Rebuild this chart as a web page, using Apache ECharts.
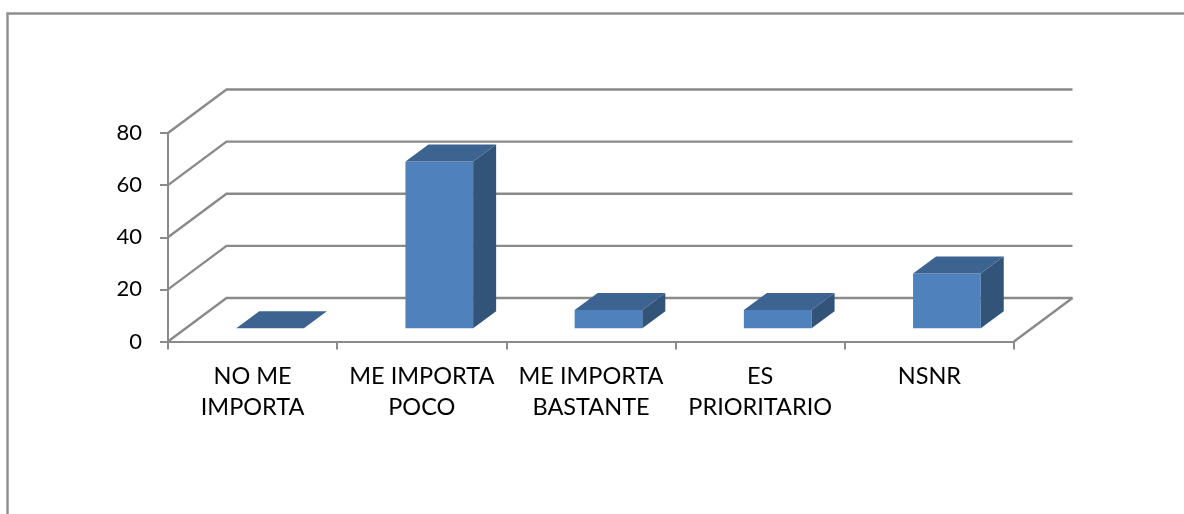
<!DOCTYPE html>
<html>
<head>
<meta charset="utf-8">
<style>html,body{margin:0;padding:0;background:#fff}#c{width:1184px;height:514px}</style>
<script src="https://cdn.jsdelivr.net/npm/echarts@6/dist/echarts.min.js"></script>
</head>
<body>
<div id="c"></div>
<script>
var categories = ['NO ME\nIMPORTA', 'ME IMPORTA\nPOCO', 'ME IMPORTA\nBASTANTE', 'ES\nPRIORITARIO', 'NSNR'];
var seriesValues = [0, 64, 7, 7, 21];
var yTicks = [0, 20, 40, 60, 80];

var GRAY = '#8a8a8a';
var WALL_DX = 58.5, WALL_DY = 43.5;
var BAR_SHIFT_X = 17.5, BAR_SHIFT_Y = 13.2, BAR_DX = 23, BAR_DY = 17;

var chart = echarts.init(document.getElementById('c'), null, {renderer: 'canvas'});

function renderWall(params, api) {
  var cs = params.coordSys;
  var y = api.coord([0, api.value(0)])[1];
  var x0 = cs.x, x1 = cs.x + cs.width;
  var children = [{
    type: 'polyline',
    shape: {points: [[x0, y], [x0 + WALL_DX, y - WALL_DY], [x1 + WALL_DX, y - WALL_DY]]},
    style: {stroke: GRAY, lineWidth: 2.4, fill: null}
  }];
  if (api.value(0) === 0) {
    children.push({
      type: 'line',
      shape: {x1: x1, y1: y, x2: x1 + WALL_DX, y2: y - WALL_DY},
      style: {stroke: GRAY, lineWidth: 2.4}
    });
  }
  return {type: 'group', children: children};
}

function renderBar(params, api) {
  var i = api.value(0), v = api.value(1);
  var c0 = api.coord([i, 0]), c1 = api.coord([i, v]);
  var band = api.size([1, 0])[0];
  var w = band * 0.4;
  var l = c0[0] + BAR_SHIFT_X - w / 2, r = l + w;
  var b = c0[1] - BAR_SHIFT_Y, t = c1[1] - BAR_SHIFT_Y;
  var children = [];
  if (v > 0) {
    children.push({type: 'rect', shape: {x: l, y: t, width: w, height: b - t}, style: {fill: '#4f81bd'}});
    children.push({type: 'polygon', shape: {points: [[r, t], [r + BAR_DX, t - BAR_DY], [r + BAR_DX, b - BAR_DY], [r, b]]}, style: {fill: '#335479'}});
  }
  children.push({type: 'polygon', shape: {points: [[l, t], [l + BAR_DX, t - BAR_DY], [r + BAR_DX, t - BAR_DY], [r, t]]}, style: {fill: '#3d6391'}});
  return {type: 'group', children: children};
}

chart.setOption({
  animation: false,
  backgroundColor: '#ffffff',
  textStyle: {fontFamily: 'Lato'},
  grid: {left: 168, top: 133, width: 846, height: 208.5, containLabel: false},
  graphic: [{
    type: 'polyline',
    silent: true,
    shape: {points: [[7.5, 520], [7.5, 13.5], [1190, 13.5]]},
    style: {stroke: '#8e8e8e', lineWidth: 2.4, fill: null}
  }],
  xAxis: {
    type: 'category',
    data: categories,
    boundaryGap: true,
    axisLine: {show: true, lineStyle: {color: GRAY, width: 2}},
    axisTick: {show: true, length: 8, alignWithLabel: false, lineStyle: {color: GRAY, width: 2}},
    axisLabel: {interval: 0, color: '#000', fontFamily: 'Lato', fontSize: 23.5, lineHeight: 31, margin: 19},
    splitLine: {show: false}
  },
  yAxis: {
    type: 'value',
    min: 0, max: 80, interval: 20,
    axisLine: {show: true, lineStyle: {color: GRAY, width: 2}},
    axisTick: {show: true, length: 8, lineStyle: {color: GRAY, width: 2}},
    axisLabel: {color: '#000', fontFamily: 'Lato', fontSize: 22, margin: 26},
    splitLine: {show: false}
  },
  series: [{
    type: 'custom',
    silent: true,
    clip: false,
    z: 1,
    renderItem: renderWall,
    encode: {y: 0},
    data: yTicks.map(function (t) { return [t]; })
  }, {
    type: 'custom',
    silent: true,
    clip: false,
    z: 3,
    renderItem: renderBar,
    encode: {x: 0, y: 1},
    data: seriesValues.map(function (v, i) { return [i, v]; })
  }]
});
</script>
</body>
</html>
